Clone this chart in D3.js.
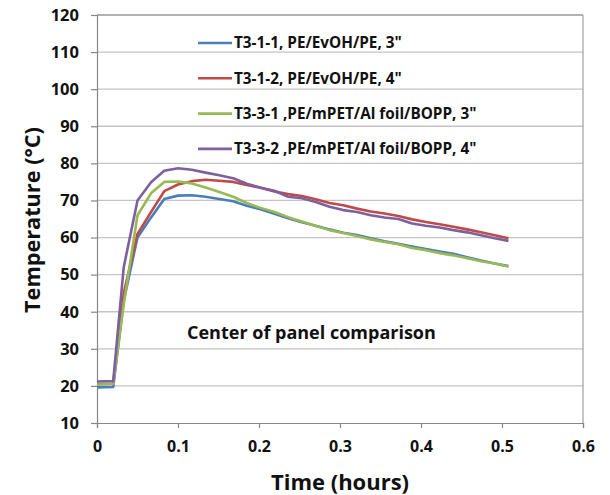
<!DOCTYPE html>
<html>
<head>
<meta charset="utf-8">
<script src="https://cdn.jsdelivr.net/npm/d3@7"></script>
<style>
  body { margin: 0; background: #fff; }
  text { font-family: "Open Sans", "DejaVu Sans", sans-serif; font-weight: bold; fill: #111; }
</style>
</head>
<body>
<svg width="610" height="495"></svg>
<script>
// time in hours
var times = [0, 0.02, 0.033, 0.05, 0.067, 0.083, 0.1, 0.117, 0.134, 0.151, 0.168, 0.185, 0.202, 0.219, 0.236,
    0.253, 0.27, 0.287, 0.304, 0.321, 0.338, 0.355, 0.372, 0.389, 0.406, 0.423, 0.44, 0.457, 0.474, 0.491, 0.508];

var t311 = [19.6, 19.7, 43, 60, 65.5, 70.4, 71.3, 71.4, 71.0, 70.4, 69.8, 68.6, 67.6, 66.4, 65.2,
    64.1, 63.2, 62.2, 61.3, 60.7, 59.8, 59.0, 58.3, 57.6, 56.9, 56.2, 55.6, 54.7, 53.8, 53.0, 52.3];
var t312 = [20.5, 20.6, 45, 61, 67, 72.5, 74.3, 75.2, 75.6, 75.3, 75.0, 74.2, 73.4, 72.4, 71.7,
    71.2, 70.3, 69.3, 68.7, 67.8, 67.0, 66.5, 65.8, 64.9, 64.2, 63.6, 62.9, 62.2, 61.4, 60.6, 59.8];
var t331 = [20.4, 20.5, 42, 66, 72, 75, 75.1, 74.6, 73.5, 72.3, 71.0, 69.3, 68.0, 66.9, 65.5,
    64.3, 63.1, 62.0, 61.2, 60.4, 59.5, 58.8, 58.2, 57.2, 56.6, 55.8, 55.2, 54.4, 53.6, 53.0, 52.2];
var t332 = [21.2, 21.3, 52, 70, 75, 78, 78.7, 78.3, 77.5, 76.8, 76.0, 74.5, 73.4, 72.6, 71.0,
    70.6, 69.6, 68.3, 67.4, 66.9, 66.0, 65.4, 65.0, 63.8, 63.2, 62.7, 62.0, 61.4, 60.6, 59.8, 59.1];

var seriesNames = ['T3-1-1, PE/EvOH/PE, 3"', 'T3-1-2, PE/EvOH/PE, 4"',
    'T3-3-1 ,PE/mPET/Al foil/BOPP, 3"', 'T3-3-2 ,PE/mPET/Al foil/BOPP, 4"'];
var seriesColors = ['#4a7ebb', '#be4b48', '#98b954', '#7d60a0'];
var seriesValues = [t311, t312, t331, t332];

var xTicks = [0, 0.1, 0.2, 0.3, 0.4, 0.5, 0.6];
var yTicks = [10, 20, 30, 40, 50, 60, 70, 80, 90, 100, 110, 120];

var svg = d3.select('svg');

var xScale = d3.scaleLinear().domain([0, 0.6]).range([97, 583]);
var yScale = d3.scaleLinear().domain([10, 120]).range([423, 15]);

//gridlines
svg.append('g')
    .selectAll('line')
    .data(yTicks.slice(1))
    .enter()
    .append('line')
    .attr('x1', 97).attr('x2', 583)
    .attr('y1', d => yScale(d)).attr('y2', d => yScale(d))
    .style('stroke', '#c4c4c4')
    .style('stroke-width', 1.3);

//plot border top and right
svg.append('line')
    .attr('x1', 583).attr('x2', 583).attr('y1', 15).attr('y2', 423)
    .style('stroke', '#a0a0a0').style('stroke-width', 1.2);
svg.append('line')
    .attr('x1', 97).attr('x2', 583).attr('y1', 15).attr('y2', 15)
    .style('stroke', '#909090').style('stroke-width', 1.2);

//x-axis
var xAxis = d3.axisBottom(xScale)
    .tickValues(xTicks)
    .tickFormat(d => d === 0 ? '0' : d3.format('.1f')(d))
    .tickSize(5)
    .tickPadding(13);
var gx = svg.append('g')
    .attr('transform', 'translate(0,423)')
    .call(xAxis);
gx.selectAll('text').style('font-size', '16px').attr('fill', '#111');

//y-axis
var yAxis = d3.axisLeft(yScale)
    .tickValues(yTicks)
    .tickSize(6)
    .tickPadding(12);
var gy = svg.append('g')
    .attr('transform', 'translate(97,0)')
    .call(yAxis);
gy.selectAll('text').style('font-size', '16.5px').attr('fill', '#111');

svg.selectAll('.domain').style('stroke', '#868686').style('stroke-width', 1.2);
svg.selectAll('.tick line').style('stroke', '#868686').style('stroke-width', 1.2);

//series lines
var line = d3.line()
    .x((d, i) => xScale(times[i]))
    .y(d => yScale(d));

svg.append('g')
    .selectAll('path')
    .data(seriesValues)
    .enter()
    .append('path')
    .attr('d', d => line(d))
    .style('fill', 'none')
    .style('stroke', (d, i) => seriesColors[i])
    .style('stroke-width', 2.6)
    .style('stroke-linejoin', 'round');

//legend
var legend = svg.append('g')
    .selectAll('g')
    .data(seriesNames)
    .enter()
    .append('g')
    .attr('transform', (d, i) => 'translate(198,' + (43 + i * 35.3) + ')');
legend.append('line')
    .attr('x1', 0).attr('x2', 34)
    .style('stroke', (d, i) => seriesColors[i])
    .style('stroke-width', 2.6);
legend.append('text')
    .attr('x', 36)
    .attr('dy', '0.35em')
    .style('font-size', '15.3px')
    .text(d => d);

//annotation
svg.append('text')
    .attr('x', 187)
    .attr('y', 339)
    .style('font-size', '18px')
    .text('Center of panel comparison');

//axis labels
svg.append('text')
    .attr('transform', 'translate(340,490)')
    .attr('text-anchor', 'middle')
    .style('font-size', '22px')
    .text('Time (hours)');

svg.append('text')
    .attr('transform', 'translate(40,220) rotate(-90)')
    .attr('text-anchor', 'middle')
    .style('font-size', '21.7px')
    .text('Temperature (\u00B0C)');
</script>
</body>
</html>
